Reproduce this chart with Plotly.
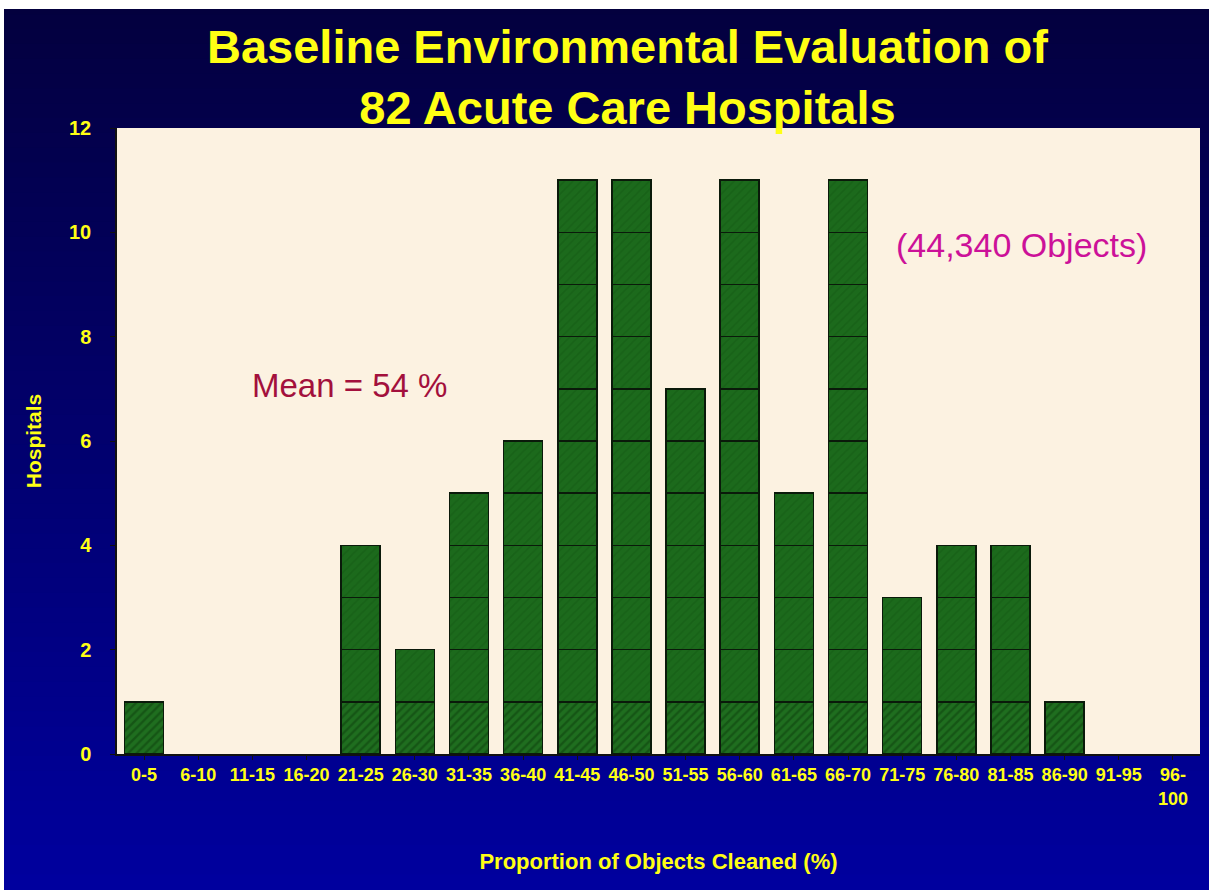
import plotly.graph_objects as go

categories = ["0-5", "6-10", "11-15", "16-20", "21-25", "26-30", "31-35", "36-40",
              "41-45", "46-50", "51-55", "56-60", "61-65", "66-70", "71-75", "76-80",
              "81-85", "86-90", "91-95", "96-<br>100"]
hospitals = [1, 0, 0, 0, 4, 2, 5, 6, 11, 11, 7, 11, 5, 11, 3, 4, 4, 1, 0, 0]
y_ticks = [0, 2, 4, 6, 8, 10, 12]

YELLOW = "#ffff14"
FONT = "Liberation Sans, Arial, sans-serif"

ML, MR, MT, MB = 117, 9, 128, 136
W, H = 1209, 890
PW, PH = W - ML - MR, H - MT - MB

fig = go.Figure()

# stacked unit blocks (one trace per level)
max_level = max(hospitals)
for k in range(1, max_level + 1):
    ys = [1 if c >= k else None for c in hospitals]
    if k == 1:
        pattern = dict(shape="/", fgcolor="#0b3d0b", bgcolor="#1f6e1f", size=6, solidity=0.4)
    else:
        pattern = dict(shape="/", fgcolor="#145a14", bgcolor="#1c6a1c", size=6, solidity=0.3)
    fig.add_trace(go.Bar(
        x=categories, y=ys,
        marker=dict(color="#1c6a1c", line=dict(color="#0a1a0a", width=1.5), pattern=pattern),
        showlegend=False, hoverinfo="skip",
    ))

# background gradient for the whole figure
shapes = []
n = 60
top = (3, 0, 62)
bot = (0, 0, 158)
y_top_paper = 1 + MT / PH
y_bot_paper = -MB / PH
for i in range(n):
    t = i / (n - 1)
    r = round(top[0] + (bot[0] - top[0]) * t)
    g = round(top[1] + (bot[1] - top[1]) * t)
    b = round(top[2] + (bot[2] - top[2]) * t)
    y1 = y_top_paper - (y_top_paper - y_bot_paper) * i / n
    y0 = y_top_paper - (y_top_paper - y_bot_paper) * (i + 1) / n
    shapes.append(dict(type="rect", xref="paper", yref="paper", x0=-0.2, x1=1.1,
                       y0=y0 - 0.002, y1=y1 + 0.001, fillcolor=f"rgb({r},{g},{b})",
                       line=dict(width=0), layer="below"))
# white border strips (top and left) of the original slide capture
shapes.append(dict(type="rect", xref="paper", yref="paper", x0=-0.2, x1=1.1,
                   y0=1 + (MT - 9) / PH, y1=1 + (MT + 5) / PH, fillcolor="white",
                   line=dict(width=0), layer="below"))
shapes.append(dict(type="rect", xref="paper", yref="paper", x0=-0.2, x1=-(ML - 4) / PW,
                   y0=-0.3, y1=1.3, fillcolor="white", line=dict(width=0), layer="below"))
# plot area
shapes.append(dict(type="rect", xref="paper", yref="paper", x0=0, x1=1, y0=0, y1=1,
                   fillcolor="#fcf2e1", line=dict(width=0), layer="below"))

fig.update_layout(
    width=W, height=H,
    margin=dict(l=ML, r=MR, t=MT, b=MB),
    paper_bgcolor="#00005a",
    plot_bgcolor="rgba(0,0,0,0)",
    barmode="stack",
    bargap=0.28,
    shapes=shapes,
    title=dict(text="Baseline Environmental Evaluation of<br>82 Acute Care Hospitals",
               x=0.519, xanchor="center", y=1 - 63 / H, yanchor="middle",
               font=dict(family=FONT, size=47, color=YELLOW, weight="bold")),
    font=dict(family=FONT, color=YELLOW),
    xaxis=dict(
        tickfont=dict(size=18, color=YELLOW, weight="bold"),
        showline=True, linecolor="#111111", linewidth=1.5,
        ticks="outside", ticklen=4, tickcolor="#111111",
        showgrid=False,
        title=dict(text="Proportion of Objects Cleaned (%)", standoff=46,
                   font=dict(size=22, color=YELLOW, weight="bold")),
    ),
    yaxis=dict(
        range=[0, 12], tickvals=y_ticks,
        tickfont=dict(size=20, color=YELLOW, weight="bold"),
        showline=True, linecolor="#111111", linewidth=1.5,
        ticks="outside", ticklen=5, tickcolor="#111111",
        ticklabelstandoff=15,
        showgrid=False, zeroline=False,
        title=dict(text="Hospitals", standoff=22,
                   font=dict(size=21, color=YELLOW, weight="bold")),
    ),
    annotations=[
        dict(text="Mean = 54 %", x=3.8, y=7.07, xref="x", yref="y", showarrow=False,
             font=dict(family=FONT, size=33, color="#a3103c")),
        dict(text="(44,340 Objects)", x=16.2, y=9.75, xref="x", yref="y", showarrow=False,
             font=dict(family=FONT, size=34, color="#cc1199")),
    ],
)

fig.write_html("out.html", config={"displayModeBar": False},
               post_script="document.body.style.margin='0px';")
